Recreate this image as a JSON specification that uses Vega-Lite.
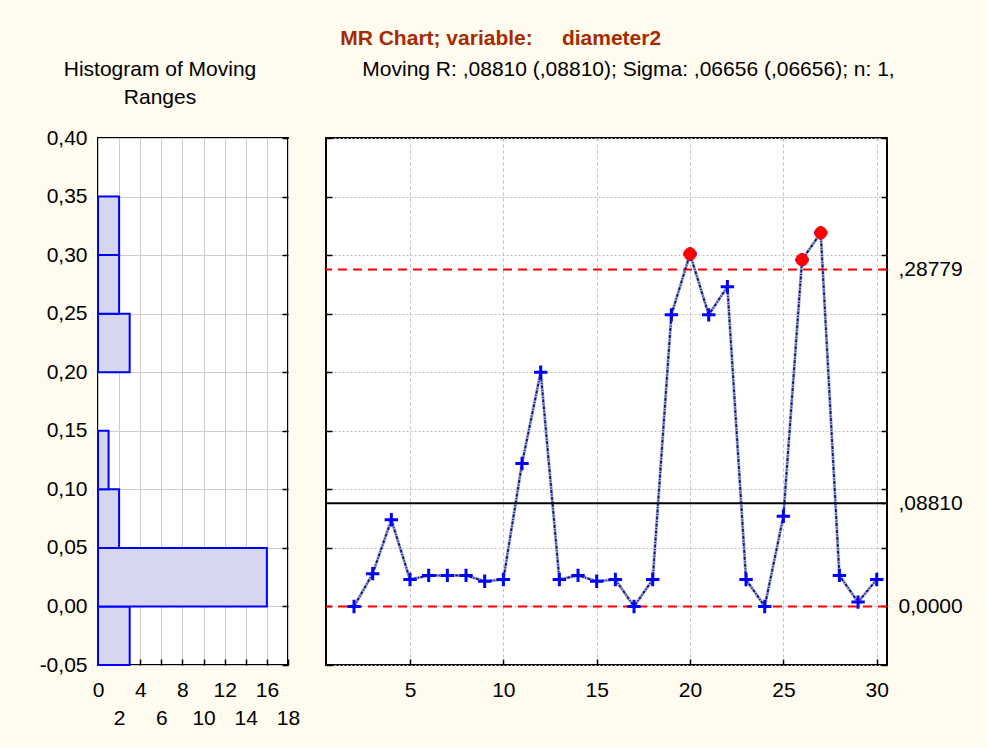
{
  "$schema": "https://vega.github.io/schema/vega-lite/v6.json",
  "background": "#fffbee",
  "padding": {"left": 38, "top": 28, "right": 30, "bottom": 50},
  "title": {"text": "MR Chart; variable:\u00a0\u00a0\u00a0\u00a0 diameter2", "color": "#a82a00", "fontSize": 21, "fontWeight": "bold", "font": "Liberation Sans", "anchor": "middle", "offset": 9},
  "datasets": {
    "hist": [
      {"lo": -0.05, "hi": 0.0, "count": 3},
      {"lo": 0.0, "hi": 0.05, "count": 16},
      {"lo": 0.05, "hi": 0.1, "count": 2},
      {"lo": 0.1, "hi": 0.15, "count": 1},
      {"lo": 0.2, "hi": 0.25, "count": 3},
      {"lo": 0.25, "hi": 0.3, "count": 2},
      {"lo": 0.3, "hi": 0.35, "count": 2}
    ],
    "mr": [
      {"i": 2, "r": 0.0},
      {"i": 3, "r": 0.028},
      {"i": 4, "r": 0.074},
      {"i": 5, "r": 0.023},
      {"i": 6, "r": 0.0265},
      {"i": 7, "r": 0.0265},
      {"i": 8, "r": 0.0265},
      {"i": 9, "r": 0.0215},
      {"i": 10, "r": 0.023},
      {"i": 11, "r": 0.122},
      {"i": 12, "r": 0.2},
      {"i": 13, "r": 0.023},
      {"i": 14, "r": 0.0265},
      {"i": 15, "r": 0.0215},
      {"i": 16, "r": 0.023},
      {"i": 17, "r": 0.0},
      {"i": 18, "r": 0.023},
      {"i": 19, "r": 0.249},
      {"i": 20, "r": 0.301},
      {"i": 21, "r": 0.249},
      {"i": 22, "r": 0.273},
      {"i": 23, "r": 0.023},
      {"i": 24, "r": 0.0},
      {"i": 25, "r": 0.077},
      {"i": 26, "r": 0.296},
      {"i": 27, "r": 0.319},
      {"i": 28, "r": 0.0265},
      {"i": 29, "r": 0.0037},
      {"i": 30, "r": 0.023}
    ],
    "limits": [
      {"kind": "UCL", "value": 0.28779},
      {"kind": "CL", "value": 0.0881},
      {"kind": "LCL", "value": 0.0}
    ]
  },
  "config": {
    "font": "Liberation Sans",
    "view": {"stroke": "#000000", "strokeWidth": 2, "fill": "#ffffff"},
    "axis": {"labelFont": "Liberation Sans", "labelFontSize": 21, "labelColor": "#000000", "title": null, "domain": false, "tickColor": "#000000", "tickSize": -6, "tickWidth": 1.5, "labelPadding": 20, "labelOverlap": false, "labelFlush": false}
  },
  "hconcat": [
    {
      "width": 190,
      "height": 527,
      "title": {"text": ["Histogram of Moving", "Ranges"], "fontSize": 21, "fontWeight": "normal", "lineHeight": 28, "anchor": "middle", "dx": -33, "offset": 19},
      "data": {"name": "hist"},
      "layer": [
        {
          "mark": {"type": "bar", "fill": "#d6d6ee", "stroke": "#0000ff", "strokeWidth": 2},
          "encoding": {
            "y": {"field": "lo", "type": "quantitative", "scale": {"domain": [-0.05, 0.4], "nice": false, "zero": false},
              "axis": {"values": [-0.05, 0, 0.05, 0.1, 0.15, 0.2, 0.25, 0.3, 0.35, 0.4], "labelExpr": "replace(replace(format(datum.value, '.2f'), '.', ','), '\u2212', '-')", "ticks": false, "labelPadding": 11, "grid": true, "gridColor": "#cccccc", "gridWidth": 1}},
            "y2": {"field": "hi"},
            "x": {"field": "count", "type": "quantitative", "scale": {"domain": [0, 18], "nice": false},
              "axis": {"values": [0, 4, 8, 12, 16], "labelPadding": 20, "grid": true, "gridColor": "#cccccc", "gridWidth": 1}},
            "x2": {"datum": 0}
          }
        },
        {
          "mark": {"type": "bar", "opacity": 0},
          "encoding": {
            "y": {"field": "lo", "type": "quantitative", "scale": {"domain": [-0.05, 0.4], "nice": false, "zero": false},
              "axis": {"orient": "right", "values": [-0.05, 0, 0.05, 0.1, 0.15, 0.2, 0.25, 0.3, 0.35, 0.4], "labels": false, "grid": false}},
            "y2": {"field": "hi"},
            "x": {"field": "count", "type": "quantitative",
              "axis": {"orient": "bottom", "values": [2, 6, 10, 14, 18], "labelPadding": 48, "grid": true, "gridColor": "#cccccc", "gridWidth": 1}},
            "x2": {"datum": 0}
          }
        }
      ],
      "resolve": {"axis": {"y": "independent", "x": "independent"}}
    },
    {
      "width": 561,
      "height": 527,
      "title": {"text": ["Moving R: ,08810 (,08810); Sigma: ,06656 (,06656); n: 1,", " "], "fontSize": 21, "fontWeight": "normal", "lineHeight": 28, "anchor": "middle", "dx": 22, "offset": 19},
      "layer": [
        {
          "data": {"name": "mr"},
          "mark": {"type": "line", "stroke": "#a0a8d8", "strokeWidth": 3},
          "encoding": {
            "x": {"field": "i", "type": "quantitative", "scale": {"domain": [0.5, 30.55], "nice": false, "zero": false},
              "axis": {"values": [5, 10, 15, 20, 25, 30], "grid": true, "gridColor": "#c0c0c0", "gridDash": [3, 3], "gridWidth": 1, "labelPadding": 20}},
            "y": {"field": "r", "type": "quantitative", "scale": {"domain": [-0.05, 0.4], "nice": false, "zero": false},
              "axis": {"values": [-0.05, 0, 0.05, 0.1, 0.15, 0.2, 0.25, 0.3, 0.35, 0.4], "labels": false, "grid": true, "gridColor": "#c0c0c0", "gridDash": [2, 2], "gridWidth": 1}}
          }
        },
        {
          "data": {"name": "limits"},
          "transform": [{"filter": "datum.kind != 'CL'"}],
          "mark": {"type": "rule", "stroke": "#ff0000", "strokeWidth": 2, "strokeDash": [9, 6]},
          "encoding": {
            "y": {"field": "value", "type": "quantitative",
              "axis": {"orient": "right", "values": [-0.05, 0, 0.05, 0.1, 0.15, 0.2, 0.25, 0.3, 0.35, 0.4, 0.0881, 0.28779], "labelExpr": "datum.value == 0 ? '0,0000' : (abs(datum.value - 0.0881) < 0.0001 ? ',08810' : (abs(datum.value - 0.28779) < 0.0001 ? ',28779' : ''))", "labelPadding": 17, "grid": false}}
          }
        },
        {
          "data": {"name": "limits"},
          "transform": [{"filter": "datum.kind == 'CL'"}],
          "mark": {"type": "rule", "stroke": "#000000", "strokeWidth": 1.8},
          "encoding": {
            "y": {"field": "value", "type": "quantitative", "axis": null}
          }
        },
        {
          "data": {"name": "mr"},
          "mark": {"type": "line", "stroke": "#101070", "strokeWidth": 1.8, "strokeDash": [3, 1.5, 1, 1.5]},
          "encoding": {
            "x": {"field": "i", "type": "quantitative"},
            "y": {"field": "r", "type": "quantitative", "axis": null}
          }
        },
        {
          "data": {"name": "mr"},
          "mark": {"type": "point", "shape": "M-1,0H1M0,-1V1", "stroke": "#0000ff", "strokeWidth": 3, "size": 180, "opacity": 1},
          "encoding": {
            "x": {"field": "i", "type": "quantitative"},
            "y": {"field": "r", "type": "quantitative", "axis": null}
          }
        },
        {
          "data": {"name": "mr"},
          "transform": [{"filter": "datum.r > 0.28779"}],
          "mark": {"type": "point", "shape": "circle", "filled": true, "fill": "#ff0000", "stroke": "#ff0000", "strokeWidth": 0.5, "size": 160, "opacity": 1},
          "encoding": {
            "x": {"field": "i", "type": "quantitative"},
            "y": {"field": "r", "type": "quantitative", "axis": null}
          }
        }
      ],
      "resolve": {"axis": {"y": "independent"}}
    }
  ],
  "spacing": 23
}
